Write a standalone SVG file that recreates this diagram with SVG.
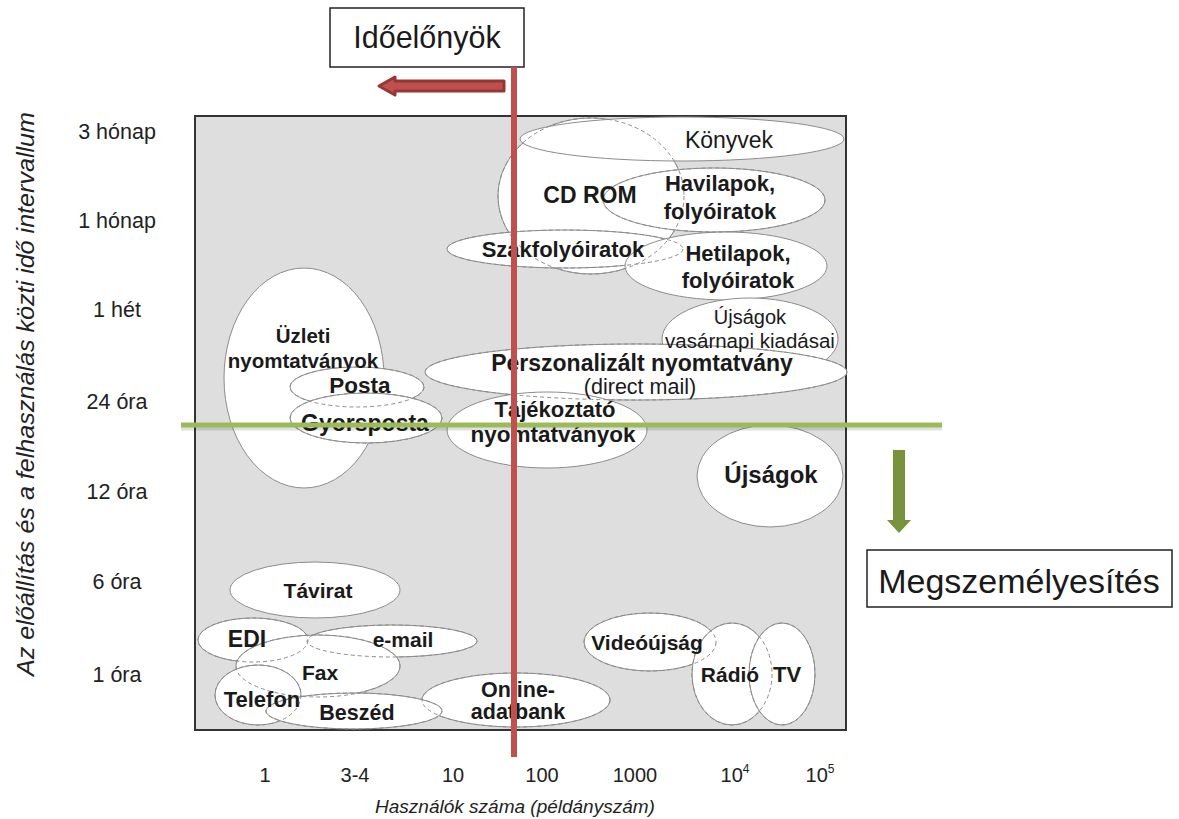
<svg xmlns="http://www.w3.org/2000/svg" width="1179" height="819" viewBox="0 0 1179 819">
<style>
.el{fill:#fff;stroke:#8c8c8c;stroke-width:1}
.dash{fill:none;stroke:#8c8c8c;stroke-width:1;stroke-dasharray:4 3}
.b{font-family:"Liberation Sans",Arial,sans-serif;font-weight:bold;fill:#1a1a1a;text-anchor:middle}
.r{font-family:"Liberation Sans",Arial,sans-serif;fill:#1a1a1a;text-anchor:middle}
.ax{font-family:"Liberation Sans",Arial,sans-serif;font-size:21.5px;fill:#222;text-anchor:middle}
.xa{font-family:"Liberation Sans",Arial,sans-serif;font-size:20px;fill:#222;text-anchor:middle}
.it{font-family:"Liberation Sans",Arial,sans-serif;font-style:italic;fill:#222;text-anchor:middle}
</style>
<rect width="1179" height="819" fill="#fff"/>
<!-- plot area -->
<rect x="195" y="116" width="651" height="614" fill="#dedede" stroke="#333" stroke-width="2"/>

<!-- ellipse fills in stacking order -->
<g id="shapes">
<ellipse class="el" cx="591" cy="196" rx="93" ry="78"/>
<ellipse class="el" cx="682" cy="139" rx="162" ry="22"/>
<ellipse class="el" cx="714" cy="200" rx="111" ry="32"/>
<ellipse class="el" cx="565" cy="249" rx="118" ry="19"/>
<ellipse class="el" cx="726" cy="266" rx="101" ry="34"/>
<ellipse class="el" cx="750" cy="339" rx="88" ry="41"/>
<ellipse class="el" cx="636" cy="372" rx="211" ry="28"/>
<ellipse class="el" cx="547" cy="430" rx="100" ry="38"/>
<ellipse class="el" cx="770" cy="476" rx="73" ry="51"/>
<ellipse class="el" cx="304" cy="378" rx="80" ry="110"/>
<ellipse class="el" cx="357" cy="387" rx="67" ry="20"/>
<ellipse class="el" cx="366" cy="418" rx="76" ry="25"/>
<ellipse class="el" cx="315" cy="590" rx="85" ry="28"/>
<ellipse class="el" cx="253" cy="640" rx="55" ry="22"/>
<ellipse class="el" cx="392" cy="641" rx="85" ry="16"/>
<ellipse class="el" cx="318" cy="666" rx="82" ry="31"/>
<ellipse class="el" cx="258" cy="695" rx="43" ry="30"/>
<ellipse class="el" cx="516" cy="700" rx="94" ry="27"/>
<ellipse class="el" cx="354" cy="711" rx="88" ry="18"/>
<ellipse class="el" cx="650" cy="642" rx="66" ry="29"/>
<ellipse class="el" cx="732" cy="674" rx="40" ry="51"/>
<ellipse class="el" cx="782" cy="674" rx="33" ry="51"/>
</g>
<!-- hidden outlines shown dashed -->
<g id="hidden-outlines">
<ellipse class="dash" cx="591" cy="196" rx="93" ry="78"/>
<ellipse class="dash" cx="565" cy="249" rx="118" ry="19"/>
<ellipse class="dash" cx="714" cy="200" rx="111" ry="32"/>
<ellipse class="dash" cx="636" cy="372" rx="211" ry="28"/>
<ellipse class="dash" cx="357" cy="387" rx="67" ry="20"/>
<ellipse class="dash" cx="366" cy="418" rx="76" ry="25"/>
<ellipse class="dash" cx="253" cy="640" rx="55" ry="22"/>
<ellipse class="dash" cx="392" cy="641" rx="85" ry="16"/>
<ellipse class="dash" cx="318" cy="666" rx="82" ry="31"/>
<ellipse class="dash" cx="258" cy="695" rx="43" ry="30"/>
<ellipse class="dash" cx="516" cy="700" rx="94" ry="27"/>
<ellipse class="dash" cx="354" cy="711" rx="88" ry="18"/>
<ellipse class="dash" cx="650" cy="642" rx="66" ry="29"/>
<ellipse class="dash" cx="732" cy="674" rx="40" ry="51"/>
<ellipse class="dash" cx="782" cy="674" rx="33" ry="51"/>
</g>

<g id="n-konyvek"><text class="r" x="729" y="148" font-size="23">Könyvek</text></g>
<g id="n-cdrom"><text class="b" x="590" y="203" font-size="23">CD ROM</text></g>
<g id="n-havilapok"><text class="b" x="720" y="191" font-size="22">Havilapok,</text><text class="b" x="720" y="219" font-size="22">folyóiratok</text></g>
<g id="n-szak"><text class="b" x="563" y="257" font-size="22">Szakfolyóiratok</text></g>
<g id="n-hetilapok"><text class="b" x="738" y="261" font-size="22">Hetilapok,</text><text class="b" x="738" y="288" font-size="22">folyóiratok</text></g>
<g id="n-vasarnapi"><text class="r" x="750" y="324" font-size="20">Újságok</text><text class="r" x="750" y="348" font-size="20.5">vasárnapi kiadásai</text></g>
<g id="n-perszonalizalt"><text class="b" x="642" y="371" font-size="23">Perszonalizált nyomtatvány</text><text class="r" x="640" y="394" font-size="21.5">(direct mail)</text></g>
<g id="n-tajekoztato"><text class="b" x="555" y="417" font-size="22">Tájékoztató</text><text class="b" x="553" y="442" font-size="22.5">nyomtatványok</text></g>
<g id="n-ujsagok"><text class="b" x="771" y="483" font-size="24">Újságok</text></g>
<g id="n-uzleti"><text class="b" x="303" y="343" font-size="20.5">Üzleti</text><text class="b" x="303" y="368" font-size="20.5">nyomtatványok</text></g>
<g id="n-posta"><text class="b" x="360" y="393" font-size="22.5">Posta</text></g>
<g id="n-gyorsposta"><text class="b" x="365" y="431" font-size="23">Gyorsposta</text></g>
<g id="n-tavirat"><text class="b" x="318" y="598" font-size="21">Távirat</text></g>
<g id="n-edi"><text class="b" x="247" y="647" font-size="23">EDI</text></g>
<g id="n-email"><text class="b" x="403" y="647" font-size="21">e-mail</text></g>
<g id="n-fax"><text class="b" x="320" y="680" font-size="21">Fax</text></g>
<g id="n-telefon"><text class="b" x="262" y="707" font-size="22">Telefon</text></g>
<g id="n-beszed"><text class="b" x="357" y="720" font-size="21.5">Beszéd</text></g>
<g id="n-online"><text class="b" x="518" y="697" font-size="21.5">Online-</text><text class="b" x="518" y="719" font-size="21.5">adatbank</text></g>
<g id="n-videoujsag"><text class="b" x="647" y="650" font-size="21">Videóújság</text></g>
<g id="n-radio"><text class="b" x="730" y="682" font-size="21">Rádió</text></g>
<g id="n-tv"><text class="b" x="787" y="682" font-size="22">TV</text></g>

<!-- axes labels -->
<g id="y-axis">
<text class="ax" x="117" y="139">3 hónap</text>
<text class="ax" x="117" y="228">1 hónap</text>
<text class="ax" x="117" y="317">1 hét</text>
<text class="ax" x="117" y="409">24 óra</text>
<text class="ax" x="117" y="499">12 óra</text>
<text class="ax" x="117" y="589">6 óra</text>
<text class="ax" x="117" y="682">1 óra</text>
<text class="it" font-size="24" transform="translate(34,394) rotate(-90)" textLength="564" lengthAdjust="spacingAndGlyphs">Az előállítás és a felhasználás közti idő intervallum</text>
</g>
<g id="x-axis">
<text class="xa" x="265" y="782">1</text>
<text class="xa" x="355" y="782">3-4</text>
<text class="xa" x="453" y="782">10</text>
<text class="xa" x="542" y="782">100</text>
<text class="xa" x="635" y="782">1000</text>
<text class="xa" x="735" y="782">10<tspan font-size="12" dy="-9">4</tspan></text>
<text class="xa" x="820" y="782">10<tspan font-size="12" dy="-9">5</tspan></text>
<text class="it" x="515" y="813" font-size="19">Használók száma (példányszám)</text>
</g>

<!-- boxes -->
<g id="n-idoelonyok">
<rect x="330" y="8" width="194" height="59" fill="#fff" stroke="#222" stroke-width="1.5"/>
<text class="r" x="427" y="48" font-size="30.5">Időelőnyök</text>
</g>
<g id="n-megszemelyesites">
<rect x="867" y="550" width="305" height="57" fill="#fff" stroke="#222" stroke-width="1.5"/>
<text class="r" x="1019" y="593" font-size="34">Megszemélyesítés</text>
</g>

<!-- connectors / divider lines and arrows -->
<g id="connectors">
<line x1="181" y1="428" x2="942" y2="428" stroke="#000" stroke-opacity="0.12" stroke-width="5"/>
<line x1="181" y1="425" x2="942" y2="425" stroke="#9bbb59" stroke-width="5"/>
<line x1="514" y1="67" x2="514" y2="757" stroke="#c0504d" stroke-width="6"/>
<path d="M504,81 L395,81 L395,77 L379,86 L395,95 L395,91 L504,91 Z" fill="#c0504d" stroke="#953735" stroke-width="3" stroke-linejoin="round"/>
<path d="M893,450 L905,450 L905,520 L911,520 L899,533 L887,520 L893,520 Z" fill="#77933c"/>
</g>
</svg>
